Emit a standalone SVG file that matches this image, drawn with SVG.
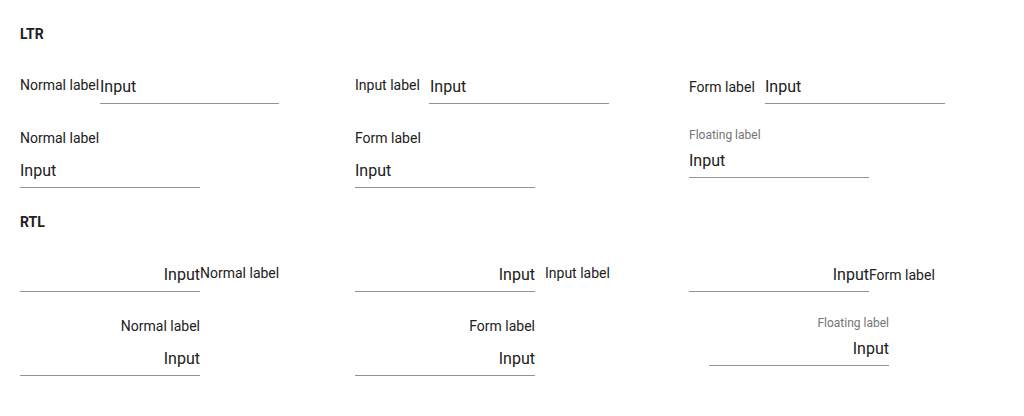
<svg xmlns="http://www.w3.org/2000/svg" width="1024" height="416" viewBox="0 0 1024 416">
<style>
text{font-family:Roboto,"Liberation Sans",sans-serif;fill:#212121}
.h{font-size:14px;font-weight:bold}
.l{font-size:14px}
.i{font-size:16px}
.f{font-size:12px;fill:#757575}
.e{text-anchor:end}
line{stroke:#949494;stroke-width:1}
</style>
<rect width="1024" height="416" fill="#fff"/>
<text class="h" x="20" y="39">LTR</text>
<g id="ltr-1-1"><text class="l" x="20" y="90">Normal label</text><text class="i" x="100" y="92">Input</text><line x1="100" y1="103.5" x2="279" y2="103.5"/></g>
<g id="ltr-1-2"><text class="l" x="355" y="90">Input label</text><text class="i" x="430" y="92">Input</text><line x1="429" y1="103.5" x2="609" y2="103.5"/></g>
<g id="ltr-1-3"><text class="l" x="689" y="92">Form label</text><text class="i" x="765" y="92">Input</text><line x1="765" y1="103.5" x2="945" y2="103.5"/></g>
<g id="ltr-2-1"><text class="l" x="20" y="143">Normal label</text><text class="i" x="20" y="176">Input</text><line x1="20" y1="187.5" x2="200" y2="187.5"/></g>
<g id="ltr-2-2"><text class="l" x="355" y="143">Form label</text><text class="i" x="355" y="176">Input</text><line x1="355" y1="187.5" x2="535" y2="187.5"/></g>
<g id="ltr-2-3"><text class="f" x="689" y="139">Floating label</text><text class="i" x="689" y="166">Input</text><line x1="689" y1="177.5" x2="869" y2="177.5"/></g>
<text class="h" x="20" y="227">RTL</text>
<g id="rtl-1-1"><text class="i e" x="200" y="280">Input</text><text class="l" x="200" y="278">Normal label</text><line x1="20" y1="291.5" x2="200" y2="291.5"/></g>
<g id="rtl-1-2"><text class="i e" x="535" y="280">Input</text><text class="l" x="545" y="278">Input label</text><line x1="355" y1="291.5" x2="535" y2="291.5"/></g>
<g id="rtl-1-3"><text class="i e" x="869" y="280">Input</text><text class="l" x="869" y="280">Form label</text><line x1="689" y1="291.5" x2="869" y2="291.5"/></g>
<g id="rtl-2-1"><text class="l e" x="200" y="331">Normal label</text><text class="i e" x="200" y="364">Input</text><line x1="20" y1="375.5" x2="200" y2="375.5"/></g>
<g id="rtl-2-2"><text class="l e" x="535" y="331">Form label</text><text class="i e" x="535" y="364">Input</text><line x1="355" y1="375.5" x2="535" y2="375.5"/></g>
<g id="rtl-2-3"><text class="f e" x="889" y="327">Floating label</text><text class="i e" x="889" y="354">Input</text><line x1="709" y1="365.5" x2="889" y2="365.5"/></g>
</svg>
